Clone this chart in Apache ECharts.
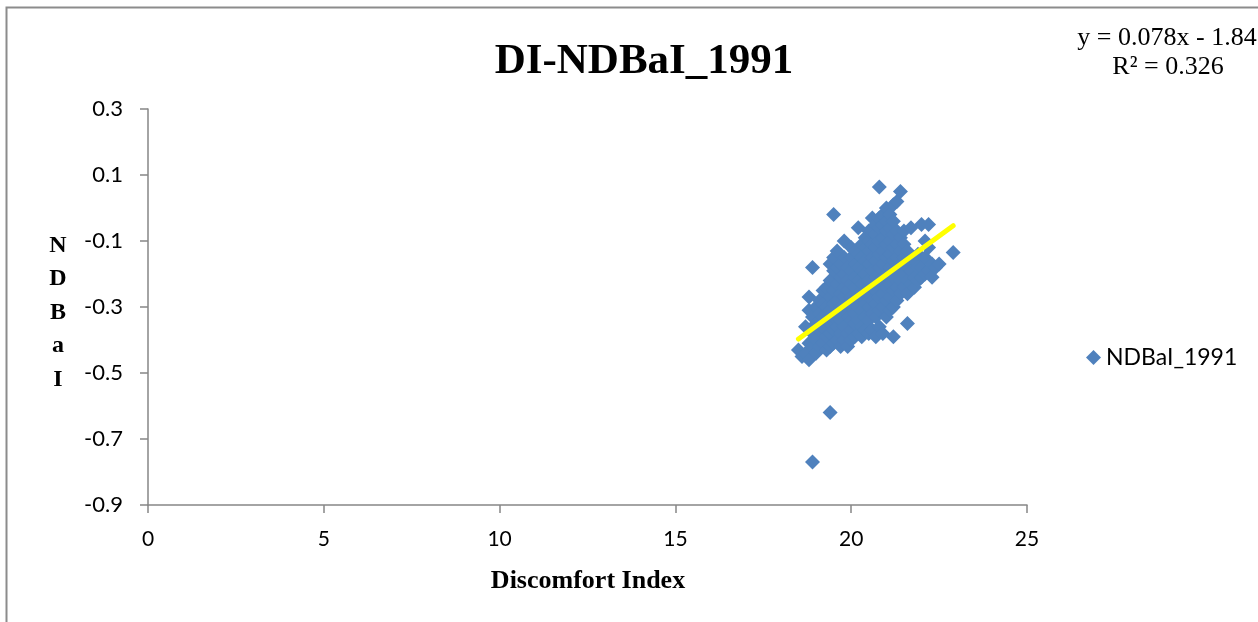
<!DOCTYPE html>
<html>
<head>
<meta charset="utf-8">
<script src="https://cdn.jsdelivr.net/npm/echarts@6/dist/echarts.min.js"></script>
<style>
  html, body { margin: 0; padding: 0; background: #ffffff; }
  #chart { width: 1258px; height: 622px; }
</style>
</head>
<body>
<div id="chart"></div>
<script>
// ---- data ----
const chartTitle = 'DI-NDBaI_1991';
const seriesName = 'NDBaI_1991';
const xAxisTitle = 'Discomfort Index';
const yAxisTitle = ['N', 'D', 'B', 'a', 'I'];
const xTicks = [0, 5, 10, 15, 20, 25];
const yTicks = [-0.9, -0.7, -0.5, -0.3, -0.1, 0.1, 0.3];
const trendSlope = 0.078;
const trendIntercept = -1.84;
const rSquared = 0.326;

// [Discomfort Index, NDBaI]
const samples = [
  [18.5,-0.43],[18.6,-0.45],[18.7,-0.44],[18.8,-0.46],[18.8,-0.41],[18.8,-0.27],[18.9,-0.18],[18.7,-0.36],[18.8,-0.31],
  [18.9,-0.77],
  [18.9,-0.42],[18.9,-0.38],[18.9,-0.33],
  [19.0,-0.44],[19.0,-0.40],[19.0,-0.35],[19.0,-0.30],
  [19.1,-0.42],[19.1,-0.37],[19.1,-0.32],[19.1,-0.28],
  [19.2,-0.41],[19.2,-0.36],[19.2,-0.33],[19.2,-0.29],[19.2,-0.25],
  [19.3,-0.43],[19.3,-0.39],[19.3,-0.34],[19.3,-0.30],[19.3,-0.24],
  [19.4,-0.42],[19.4,-0.38],[19.4,-0.35],[19.4,-0.31],[19.4,-0.27],[19.4,-0.22],[19.4,-0.17],[19.4,-0.62],[19.5,-0.02],
  [19.5,-0.41],[19.5,-0.37],[19.5,-0.33],[19.5,-0.29],[19.5,-0.25],[19.5,-0.19],[19.5,-0.15],
  [19.6,-0.40],[19.6,-0.36],[19.6,-0.32],[19.6,-0.28],[19.6,-0.23],[19.6,-0.18],[19.6,-0.13],
  [19.7,-0.42],[19.7,-0.38],[19.7,-0.34],[19.7,-0.30],[19.7,-0.26],[19.7,-0.21],[19.7,-0.17],
  [19.8,-0.40],[19.8,-0.36],[19.8,-0.31],[19.8,-0.27],[19.8,-0.24],[19.8,-0.20],[19.8,-0.15],[19.8,-0.10],
  [19.9,-0.42],[19.9,-0.38],[19.9,-0.33],[19.9,-0.29],[19.9,-0.25],[19.9,-0.22],[19.9,-0.18],
  [20.0,-0.40],[20.0,-0.37],[20.0,-0.34],[20.0,-0.30],[20.0,-0.27],[20.0,-0.23],[20.0,-0.19],[20.0,-0.15],[20.0,-0.12],
  [20.1,-0.39],[20.1,-0.35],[20.1,-0.32],[20.1,-0.28],[20.1,-0.24],[20.1,-0.21],[20.1,-0.17],[20.1,-0.13],
  [20.2,-0.38],[20.2,-0.34],[20.2,-0.30],[20.2,-0.26],[20.2,-0.22],[20.2,-0.18],[20.2,-0.14],[20.2,-0.06],
  [20.3,-0.39],[20.3,-0.36],[20.3,-0.31],[20.3,-0.27],[20.3,-0.23],[20.3,-0.19],[20.3,-0.15],[20.3,-0.11],
  [20.4,-0.37],[20.4,-0.33],[20.4,-0.29],[20.4,-0.25],[20.4,-0.20],[20.4,-0.16],[20.4,-0.12],[20.4,-0.09],
  [20.5,-0.38],[20.5,-0.34],[20.5,-0.30],[20.5,-0.26],[20.5,-0.22],[20.5,-0.17],[20.5,-0.13],[20.5,-0.10],[20.5,-0.07],
  [20.6,-0.37],[20.6,-0.32],[20.6,-0.28],[20.6,-0.24],[20.6,-0.19],[20.6,-0.15],[20.6,-0.11],[20.6,-0.07],[20.6,-0.03],
  [20.7,-0.39],[20.7,-0.33],[20.7,-0.29],[20.7,-0.25],[20.7,-0.21],[20.7,-0.16],[20.7,-0.12],[20.7,-0.08],[20.7,-0.05],
  [20.8,-0.36],[20.8,-0.31],[20.8,-0.27],[20.8,-0.22],[20.8,-0.18],[20.8,-0.14],[20.8,-0.10],[20.8,-0.06],[20.8,-0.03],[20.8,0.064],
  [20.9,-0.38],[20.9,-0.30],[20.9,-0.26],[20.9,-0.21],[20.9,-0.17],[20.9,-0.13],[20.9,-0.09],[20.9,-0.05],[20.9,-0.02],
  [21.0,-0.33],[21.0,-0.28],[21.0,-0.24],[21.0,-0.20],[21.0,-0.15],[21.0,-0.11],[21.0,-0.07],[21.0,-0.04],[21.0,0.00],
  [21.1,-0.31],[21.1,-0.27],[21.1,-0.23],[21.1,-0.18],[21.1,-0.14],[21.1,-0.10],[21.1,-0.06],[21.1,-0.02],
  [21.2,-0.39],[21.2,-0.30],[21.2,-0.25],[21.2,-0.21],[21.2,-0.16],[21.2,-0.12],[21.2,-0.08],[21.2,-0.04],[21.2,0.01],
  [21.3,-0.28],[21.3,-0.24],[21.3,-0.19],[21.3,-0.15],[21.3,-0.11],[21.3,-0.07],[21.3,0.02],
  [21.4,-0.26],[21.4,-0.22],[21.4,-0.17],[21.4,-0.13],[21.4,-0.09],[21.4,0.05],
  [21.5,-0.24],[21.5,-0.20],[21.5,-0.15],[21.5,-0.11],[21.5,-0.07],
  [21.6,-0.35],[21.6,-0.26],[21.6,-0.22],[21.6,-0.18],[21.6,-0.13],
  [21.7,-0.23],[21.7,-0.19],[21.7,-0.06],
  [21.8,-0.24],[21.8,-0.21],[21.8,-0.16],
  [21.9,-0.22],[21.9,-0.18],[21.9,-0.14],
  [22.0,-0.21],[22.0,-0.18],[22.0,-0.05],
  [22.1,-0.20],[22.1,-0.15],[22.1,-0.10],
  [22.2,-0.19],[22.2,-0.12],[22.2,-0.05],
  [22.3,-0.21],[22.3,-0.17],[22.4,-0.18],[22.5,-0.17],
  [22.9,-0.135]
];

// trendline endpoints spanning the data range
const xs = samples.map(p => p[0]);
const xMinData = Math.min(...xs);
const xMaxData = Math.max(...xs);
const trendPoints = [
  [xMinData, trendSlope * xMinData + trendIntercept],
  [xMaxData, trendSlope * xMaxData + trendIntercept]
];

const chart = echarts.init(document.getElementById('chart'), null, { renderer: 'canvas' });
const axisGray = '#868686';
const labelFont = 'Lato, "Liberation Sans", sans-serif';
const serif = '"Liberation Serif", "Times New Roman", serif';

chart.setOption({
  animation: false,
  backgroundColor: '#ffffff',
  title: {
    text: chartTitle,
    left: 639,
    top: 35,
    textAlign: 'center',
    textStyle: { fontFamily: serif, fontWeight: 'bold', fontSize: 43, color: '#000' }
  },
  legend: {
    data: [seriesName],
    left: 1081,
    top: 341,
    icon: 'diamond',
    itemWidth: 15,
    itemHeight: 15,
    itemGap: 8,
    textStyle: { fontFamily: labelFont, fontSize: 23, color: '#000' }
  },
  grid: { left: 148, right: 231, top: 109, bottom: 117, containLabel: false },
  xAxis: {
    type: 'value',
    min: 0,
    max: 25,
    interval: 5,
    splitLine: { show: false },
    axisLine: { onZero: false, lineStyle: { color: axisGray, width: 1.5 } },
    axisTick: { show: true, inside: false, length: 8, lineStyle: { color: axisGray, width: 1.5 }, customValues: xTicks },
    axisLabel: { margin: 24, fontFamily: labelFont, fontSize: 21, color: '#000', customValues: xTicks }
  },
  yAxis: {
    type: 'value',
    min: yTicks[0],
    max: yTicks[yTicks.length - 1],
    splitLine: { show: false },
    axisLine: { show: true, onZero: false, lineStyle: { color: axisGray, width: 1.5 } },
    axisTick: { show: true, inside: false, length: 8, lineStyle: { color: axisGray, width: 1.5 }, customValues: yTicks },
    axisLabel: {
      margin: 25, fontFamily: labelFont, fontSize: 22, color: '#000',
      customValues: yTicks,
      formatter: v => v.toFixed(1)
    }
  },
  graphic: [
    { type: 'rect', silent: true, z: -1,
      shape: { x: 6.5, y: 7.5, width: 1400, height: 800 },
      style: { fill: 'none', stroke: '#8c8c8c', lineWidth: 2 } },
    { type: 'text', x: 1167, y: 38, silent: true,
      style: { text: 'y = ' + trendSlope + 'x - ' + Math.abs(trendIntercept), fontFamily: serif, fontSize: 26,
               fill: '#000', textAlign: 'center', textVerticalAlign: 'middle' } },
    { type: 'text', x: 1168, y: 67, silent: true,
      style: { text: 'R² = ' + rSquared, fontFamily: serif, fontSize: 26,
               fill: '#000', textAlign: 'center', textVerticalAlign: 'middle' } },
    { type: 'text', x: 58, y: 229, silent: true,
      style: { text: yAxisTitle.join('\n'), fontFamily: serif, fontWeight: 'bold', fontSize: 24,
               lineHeight: 33.5, fill: '#000', textAlign: 'center', textVerticalAlign: 'top' } },
    { type: 'text', x: 588, y: 581, silent: true,
      style: { text: xAxisTitle, fontFamily: serif, fontWeight: 'bold', fontSize: 26,
               fill: '#000', textAlign: 'center', textVerticalAlign: 'middle' } }
  ],
  series: [
    {
      name: seriesName,
      type: 'scatter',
      symbol: 'diamond',
      symbolSize: 15,
      itemStyle: { color: '#4F81BD', opacity: 1 },
      data: samples,
      z: 2
    },
    {
      name: 'Linear (' + seriesName + ')',
      type: 'line',
      data: trendPoints,
      showSymbol: false,
      symbol: 'none',
      lineStyle: { color: '#FFFF00', width: 5, cap: 'round' },
      z: 3,
      silent: true
    }
  ]
});
</script>
</body>
</html>
